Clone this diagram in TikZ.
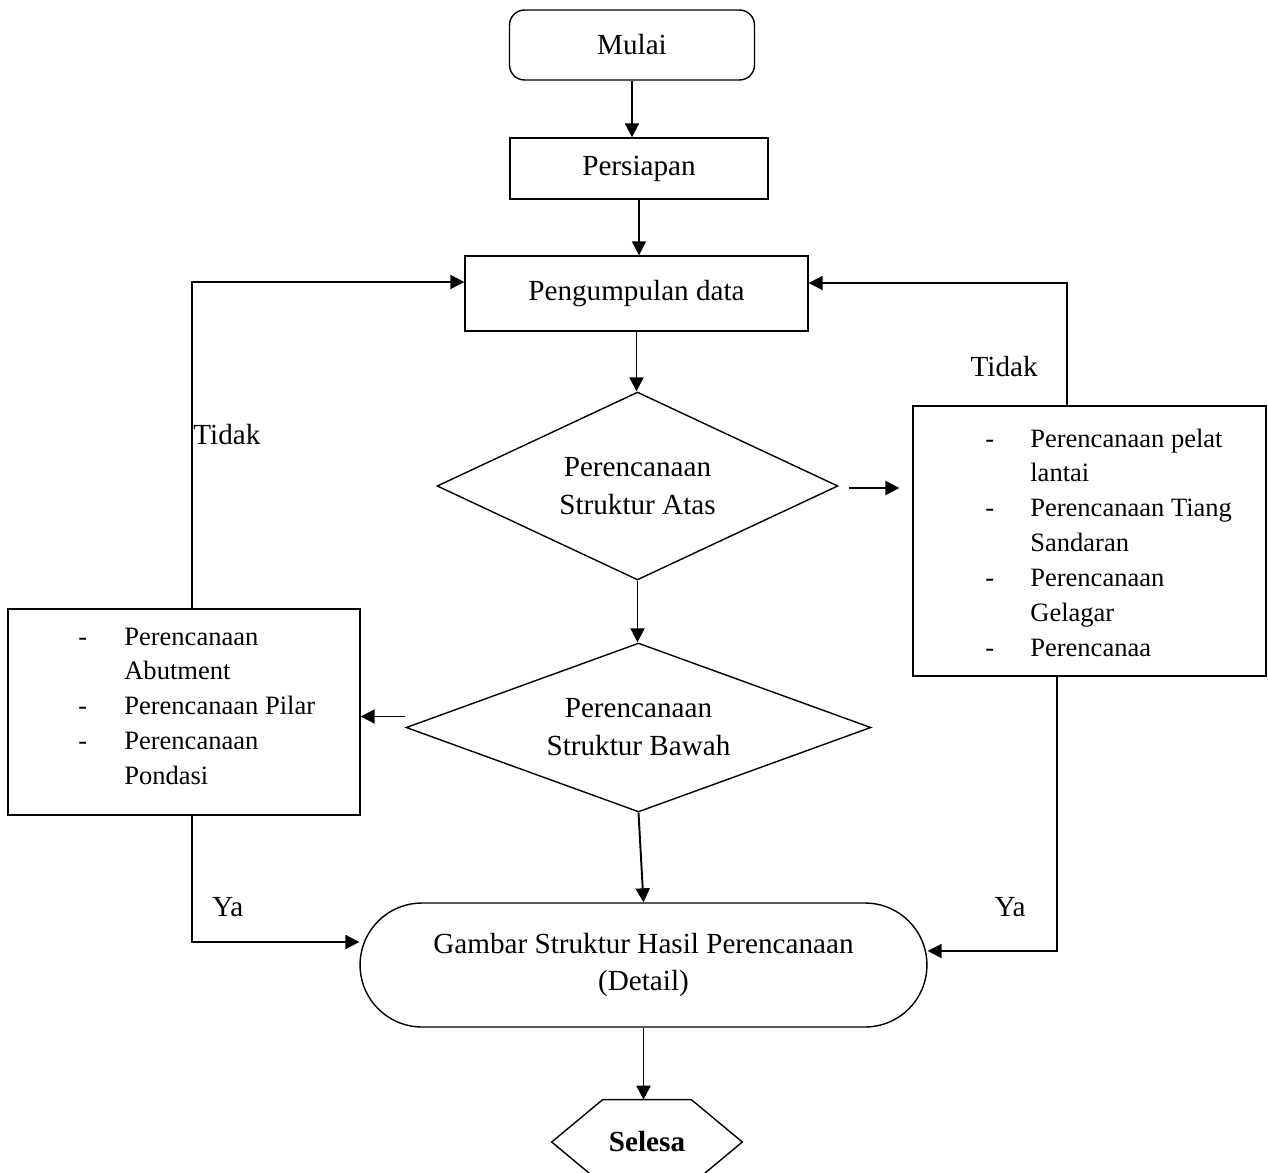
\documentclass[tikz,border=0pt]{standalone}
\usepackage{fontspec}
\setmainfont{Liberation Serif}
\usetikzlibrary{shapes.geometric,arrows.meta}

\begin{document}
\begin{tikzpicture}[x=0.02cm, y=-0.02cm,
    box/.style={draw, line width=0.8pt, inner sep=0pt},
    arrow/.style={line width=1.1pt, -{Triangle[length=0.28cm, width=0.28cm]}},
    link/.style={line width=1.1pt},
    txt/.style={font=\fontsize{16.6}{21.6}\selectfont, align=center},
    lst/.style={font=\fontsize{15.1}{19.9}\selectfont, inner sep=0pt, anchor=base west}
]
    \useasboundingbox (0,0) rectangle (1268,1173);

    % main column
    \node[box, txt, rounded corners=0.3cm, minimum width=4.9cm, minimum height=1.4cm] (mulai) at (632,45) {Mulai};
    \node[box, txt, minimum width=5.16cm, minimum height=1.22cm] (persiapan) at (639,168.5) {Persiapan};
    \node[box, txt, minimum width=6.86cm, minimum height=1.5cm] (data) at (636.5,293.5) {Pengumpulan data};
    \node[box, txt, diamond, aspect=2.13, minimum width=8.02cm, minimum height=3.76cm] (atas) at (637.5,486) {Perencanaan\\Struktur Atas};
    \node[box, txt, diamond, aspect=2.75, minimum width=9.3cm, minimum height=3.38cm] (bawah) at (638.5,727.5) {Perencanaan\\Struktur Bawah};
    \node[box, txt, rounded corners=1.24cm, minimum width=11.34cm, minimum height=2.48cm] (hasil) at (643.5,965) {Gambar Struktur Hasil Perencanaan\\(Detail)};
    \node[txt, inner sep=0pt, minimum width=3.8cm, minimum height=1.68cm] (selesai) at (647,1142) {\bfseries Selesa};
    \draw[line width=0.8pt] (selesai.west) -- ([xshift=1.02cm]selesai.north west) -- ([xshift=-1.02cm]selesai.north east)
        -- (selesai.east) -- ([xshift=-1.02cm]selesai.south east) -- ([xshift=1.02cm]selesai.south west) -- cycle;

    % side boxes
    \node[box, minimum width=7.06cm, minimum height=5.4cm] (atasbox) at (1089.5,541) {};
    \node[lst] (atastext) at (985,447) {\begin{tabular}[t]{@{}p{0.9cm}@{}l@{}}
        - & Perencanaan pelat\\
          & lantai\\
        - & Perencanaan Tiang\\
          & Sandaran\\
        - & Perencanaan\\
          & Gelagar\\
        - & Perencanaa
    \end{tabular}};
    \node[box, minimum width=7.04cm, minimum height=4.12cm] (bawahbox) at (184,712) {};
    \node[lst] (bawahtext) at (78,645) {\begin{tabular}[t]{@{}p{0.92cm}@{}l@{}}
        - & Perencanaan\\
          & Abutment\\
        - & Perencanaan Pilar\\
        - & Perencanaan\\
          & Pondasi
    \end{tabular}};

    % arrows down the middle
    \draw[arrow] (mulai.south) -- (mulai.south |- persiapan.north);
    \draw[arrow] (persiapan.south) -- (persiapan.south |- data.north);
    \draw[arrow] (data.south) -- (data.south |- atas.north);
    \draw[arrow] (atas.south) -- (atas.south |- bawah.north);
    \draw[arrow] (bawah.south) -- (hasil.north);
    \draw[arrow] (hasil.south) -- (hasil.south |- selesai.north);

    % to the side boxes
    \draw[arrow, shorten <=0.2cm, shorten >=0.26cm] ([yshift=-0.04cm]atas.east) -- ([yshift=-0.04cm]atas.east -| atasbox.west);
    \draw[arrow] ([yshift=0.22cm]bawah.west) -- ([yshift=0.22cm]bawah.west -| bawahbox.east);

    % back to data (Tidak)
    \draw[arrow] ([xshift=0.16cm]bawahbox.north) |- ([yshift=0.23cm]data.west);
    \draw[arrow] ([xshift=-0.45cm]atasbox.north) |- ([yshift=0.21cm]data.east);
    \node[txt, inner sep=0pt, anchor=west] (tidakkiri) at (193,435) {Tidak};
    \node[txt, inner sep=0pt, anchor=east] (tidakkanan) at (1038,367) {Tidak};

    % on to the drawing (Ya)
    \draw[arrow] ([xshift=0.16cm]bawahbox.south) |- ([yshift=0.46cm]hasil.west);
    \draw[arrow] ([xshift=-0.65cm]atasbox.south) |- ([yshift=0.28cm]hasil.east);
    \node[txt, inner sep=0pt, anchor=west] (yakiri) at (212,907) {Ya};
    \node[txt, inner sep=0pt, anchor=east] (yakanan) at (1026,907) {Ya};
\end{tikzpicture}
\end{document}
